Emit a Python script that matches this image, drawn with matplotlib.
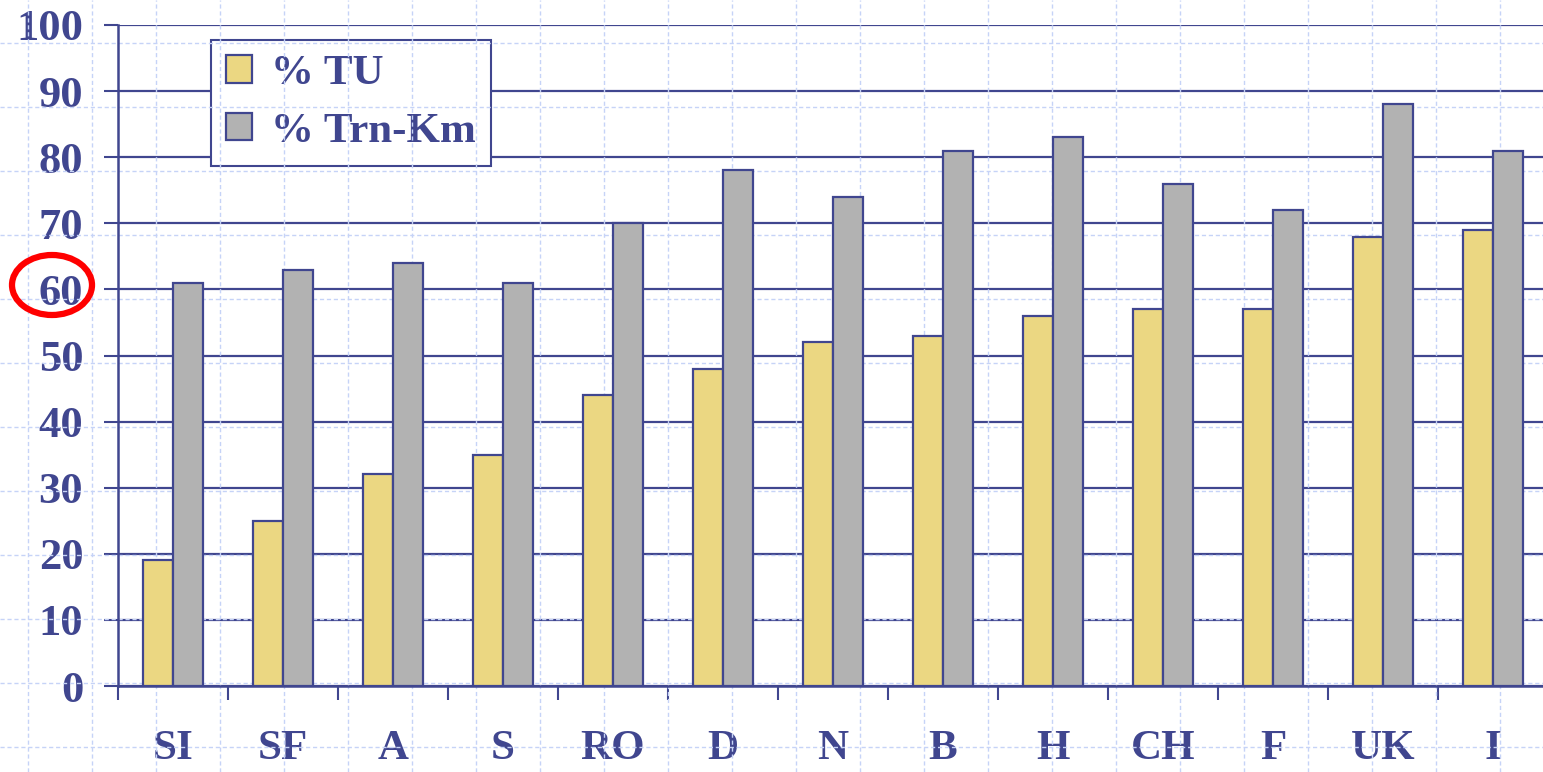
import matplotlib
matplotlib.use("Agg")
import matplotlib.pyplot as plt
import matplotlib.font_manager as fm
import numpy as np
from matplotlib.lines import Line2D
from matplotlib.patches import Ellipse

countries = ["SI", "SF", "A", "S", "RO", "D", "N", "B", "H", "CH", "F", "UK", "I"]
pct_tu = [19, 25, 32, 35, 44, 48, 52, 53, 56, 57, 57, 68, 69]
pct_trn_km = [61, 63, 64, 61, 70, 78, 74, 81, 83, 76, 72, 88, 81]
y_ticks = [0, 10, 20, 30, 40, 50, 60, 70, 80, 90, 100]
highlight_tick = 60

NAVY = "#40468f"
YELLOW = "#ebd782"
GREY = "#b2b2b2"


def bold_serif(size):
    path = None
    for f in fm.fontManager.ttflist:
        if f.name == "Liberation Serif" and f.weight == 700 and f.style == "normal":
            path = f.fname
            break
    if path:
        return fm.FontProperties(fname=path, size=size)
    return fm.FontProperties(family="serif", weight="bold", size=size)


W, H = 1543, 772
fig = plt.figure(figsize=(W / 100, H / 100), dpi=100)
fig.patch.set_facecolor("white")

left_px, right_px, top_px, bottom_px = 118, 1548, 25, 686
ax = fig.add_axes([left_px / W, 1 - bottom_px / H,
                   (right_px - left_px) / W, (bottom_px - top_px) / H])
ax.set_facecolor("none")

x = np.arange(len(countries))
bw = 0.277
ax.bar(x - bw / 2, pct_tu, bw, color=YELLOW, edgecolor=NAVY, linewidth=1.6,
       label="% TU", zorder=2)
ax.bar(x + bw / 2, pct_trn_km, bw, color=GREY, edgecolor=NAVY, linewidth=1.6,
       label="% Trn-Km", zorder=2)

ax.set_xlim(-0.5, len(countries) - 0.5)
ax.set_ylim(0, 100)

# y axis: ticks, labels and solid gridlines
ax.set_yticks(y_ticks)
ax.set_yticklabels([str(v) for v in y_ticks])
ax.tick_params(axis="y", direction="out", length=10, width=1.5, color=NAVY,
               pad=15, labelcolor=NAVY)
ax.set_axisbelow(True)
ax.yaxis.grid(True, color=NAVY, linewidth=1.6, zorder=0.5)
ax.xaxis.grid(False)

# x axis: ticks at category boundaries, labels at category centres
ax.set_xticks(np.arange(-0.5, len(countries), 1.0))
ax.set_xticklabels([])
ax.tick_params(axis="x", which="major", direction="out", length=10, width=1.5,
               color=NAVY)
ax.set_xticks(x, minor=True)
ax.set_xticklabels(countries, minor=True)
ax.tick_params(axis="x", which="minor", length=0, pad=32, labelcolor=NAVY)

for lab in ax.get_yticklabels():
    lab.set_fontproperties(bold_serif(32))
for lab in ax.get_xticklabels(minor=True):
    lab.set_fontproperties(bold_serif(31))

for side in ("top", "right"):
    ax.spines[side].set_visible(False)
for side in ("left", "bottom"):
    ax.spines[side].set_color(NAVY)
    ax.spines[side].set_linewidth(1.8)

# light dashed background grid across the whole page
gx = np.arange(28, W, 64)
gy = np.arange(43, H, 64)
for gxi in gx:
    ax.add_line(Line2D([gxi / W, gxi / W], [0, 1], transform=fig.transFigure,
                       color="#c6d3f7", linewidth=1.0, linestyle=(0, (3, 2)),
                       clip_on=False, zorder=1.8))
for gyi in gy:
    ax.add_line(Line2D([0, 1], [1 - gyi / H, 1 - gyi / H], transform=fig.transFigure,
                       color="#c6d3f7", linewidth=1.0, linestyle=(0, (3, 2)),
                       clip_on=False, zorder=1.8))

leg = ax.legend(loc="upper left", bbox_to_anchor=(0.065, 0.977),
                borderaxespad=0, fancybox=False, framealpha=1,
                edgecolor=NAVY, facecolor="white", prop=bold_serif(31),
                handlelength=0.6, handleheight=0.6, handletextpad=0.45,
                labelspacing=0.45, borderpad=0.35)
leg.get_frame().set_linewidth(1.5)
for t in leg.get_texts():
    t.set_color(NAVY)
leg.set_zorder(1.5)

# red ring drawn around the highlighted y tick label
ax.add_patch(Ellipse((52 / W, 1 - 285 / H), 80 / W, 60 / H,
                     transform=fig.transFigure, fill=False, edgecolor="#ff0000",
                     linewidth=4.5, clip_on=False, zorder=5))

fig.savefig("out.png", dpi=100, facecolor="white")
